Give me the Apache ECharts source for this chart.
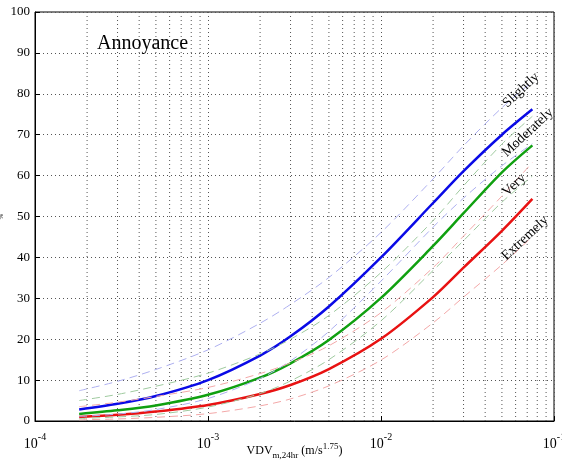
<!DOCTYPE html>
<html>
<head>
<meta charset="utf-8">
<script src="https://cdn.jsdelivr.net/npm/echarts@6/dist/echarts.min.js"></script>
<style>
  html, body { margin: 0; padding: 0; background: #fff; }
  #chart { width: 562px; height: 466px; }
</style>
</head>
<body>
<div id="chart"></div>
<script>
// VDV values where the curves were sampled (m/s^1.75)
const vdv = [1.8e-4, 3e-4, 5e-4, 1e-3, 2e-3, 3e-3, 5e-3, 1e-2, 2e-2, 3e-2, 5e-2, 7.5e-2]

// % annoyed
const slightly = [2.8, 4.2, 6.1, 10.0, 16.0, 20.7, 28.0, 40.0, 53.3, 61.1, 70.0, 76.2]
const slightlyUp = [7.4, 9.7, 12.6, 17.4, 23.9, 28.5, 35.1, 46.1, 59.2, 67.3, 76.6, 83.0]
const slightlyLo = [1.1, 1.7, 2.8, 5.5, 10.4, 14.7, 21.9, 34.2, 47.4, 54.5, 62.4, 67.8]

const moderately = [1.7, 2.6, 3.8, 6.4, 10.6, 14.1, 19.8, 30.1, 42.8, 50.8, 60.8, 67.4]
const moderatelyUp = [5.0, 6.5, 8.5, 11.7, 16.4, 20.0, 25.8, 36.3, 49.0, 57.5, 67.7, 74.5]
const moderatelyLo = [0.6, 1.0, 1.6, 3.4, 6.7, 9.8, 15.0, 24.5, 36.8, 44.1, 53.5, 59.9]

const extremely = [1.0, 1.5, 2.3, 3.9, 6.6, 8.8, 12.7, 20.1, 30.3, 37.5, 46.5, 54.3]
const extremelyUp = [3.5, 4.6, 6.0, 8.2, 11.6, 14.2, 18.4, 26.5, 37.5, 45.2, 55.0, 63.2]
const extremelyLo = [0.3, 0.5, 0.9, 1.8, 3.7, 5.4, 8.6, 14.9, 24.0, 30.3, 38.2, 45.1]

// minor grid positions of the log axis
const minorTicks = [
  2e-4, 3e-4, 4e-4, 5e-4, 6e-4, 7e-4, 8e-4, 9e-4,
  2e-3, 3e-3, 4e-3, 5e-3, 6e-3, 7e-3, 8e-3, 9e-3,
  2e-2, 3e-2, 4e-2, 5e-2, 6e-2, 7e-2, 8e-2, 9e-2
]

const serif = "'Times New Roman', 'Liberation Serif', 'DejaVu Serif', serif"
const gridDots = { color: '#555', width: 1, type: [1, 3] }

const pairs = ys => vdv.map((x, i) => [x, ys[i]])

// rotated text sitting next to the curve ends
function curveLabel(text, at) {
  return {
    type: 'line',
    data: [],
    markPoint: {
      symbol: 'circle',
      symbolSize: 0,
      silent: true,
      label: {
        show: true, position: 'inside', formatter: text, rotate: 43,
        color: '#000', fontFamily: serif, fontSize: 14
      },
      data: [{ coord: at }]
    }
  }
}

function solid(name, ys, color) {
  return {
    name: name,
    type: 'line',
    data: pairs(ys),
    smooth: 0.3,
    showSymbol: false,
    z: 3,
    lineStyle: { color: color, width: 2.5 }
  }
}

function dashed(ys, color) {
  return {
    type: 'line',
    data: pairs(ys),
    smooth: 0.3,
    showSymbol: false,
    z: 4,
    lineStyle: { color: color, width: 1, type: [8, 5] }
  }
}

const chart = echarts.init(document.getElementById('chart'))

// dotted minor grid of the log axis
const minorGrid = {
  type: 'custom',
  silent: true,
  z: 1,
  data: minorTicks,
  encode: { x: 0 },
  renderItem: (params, api) => {
    const top = api.coord([api.value(0), 100])
    const bottom = api.coord([api.value(0), 0])
    return {
      type: 'line',
      shape: { x1: top[0], y1: top[1], x2: bottom[0], y2: bottom[1] },
      style: { stroke: gridDots.color, lineWidth: 1, lineDash: [1, 3] }
    }
  }
}

chart.setOption({
  animation: false,
  title: {
    text: 'Annoyance',
    left: 92,
    top: 29,
    textStyle: { fontFamily: serif, fontSize: 20, fontWeight: 'normal', color: '#000' }
  },
  grid: {
    left: 35, right: 8, top: 12, bottom: 45,
    containLabel: false,
    outerBoundsMode: 'none',
    show: true, borderColor: '#000', borderWidth: 1
  },
  xAxis: {
    type: 'log',
    logBase: 10,
    min: 1e-4,
    max: 1e-1,
    name: '{a|VDV}{sub|m,24hr}{a| (m/s}{sup|1.75}{a|)}',
    nameLocation: 'middle',
    nameGap: 17,
    nameMoveOverlap: false,
    nameTextStyle: {
      padding: [4, 0, 0, 0],
      rich: {
        a: { fontFamily: serif, fontSize: 12, color: '#000' },
        sub: { fontFamily: serif, fontSize: 9, color: '#000', padding: [9, 0, 0, 0] },
        sup: { fontFamily: serif, fontSize: 9, color: '#000', padding: [0, 0, 9, 0] }
      }
    },
    axisLine: { lineStyle: { color: '#000', width: 1 } },
    axisTick: { inside: true, length: 5, lineStyle: { color: '#000' } },
    axisLabel: {
      showMaxLabel: true,
      margin: 8,
      formatter: v => '{b|10}{s|' + Math.round(Math.log10(v)) + '}',
      rich: {
        b: { fontFamily: serif, fontSize: 14, color: '#000', padding: [8, 0, 0, 0] },
        s: { fontFamily: serif, fontSize: 10, color: '#000', padding: [0, 0, 6, 0] }
      }
    },
    splitLine: { show: true, lineStyle: gridDots }
  },
  yAxis: {
    type: 'value',
    min: 0,
    max: 100,
    interval: 10,
    name: '%',
    nameLocation: 'middle',
    nameGap: 30,
    nameMoveOverlap: false,
    nameRotate: 90,
    nameTextStyle: { fontFamily: serif, fontSize: 7, color: '#000' },
    axisLine: { show: true, lineStyle: { color: '#000', width: 1 } },
    axisTick: { show: true, inside: true, length: 5, lineStyle: { color: '#000' } },
    axisLabel: { fontFamily: serif, fontSize: 13, color: '#000', margin: 5 },
    splitLine: { show: true, lineStyle: gridDots }
  },
  series: [
    minorGrid,
    solid('Slightly', slightly, '#0a0ae6'),
    solid('Moderately', moderately, '#10a010'),
    solid('Extremely', extremely, '#e81212'),
    dashed(slightlyUp, '#aeb0f0'),
    dashed(slightlyLo, '#aeb0f0'),
    dashed(moderatelyUp, '#9fca9f'),
    dashed(moderatelyLo, '#9fca9f'),
    dashed(extremelyUp, '#f3a8a8'),
    dashed(extremelyLo, '#f3a8a8'),
    curveLabel('Slightly', [0.0644, 80.9]),
    curveLabel('Moderately', [0.0705, 70.5]),
    curveLabel('Very', [0.0588, 57.7]),
    curveLabel('Extremely', [0.068, 44.7])
  ]
})
</script>
</body>
</html>
